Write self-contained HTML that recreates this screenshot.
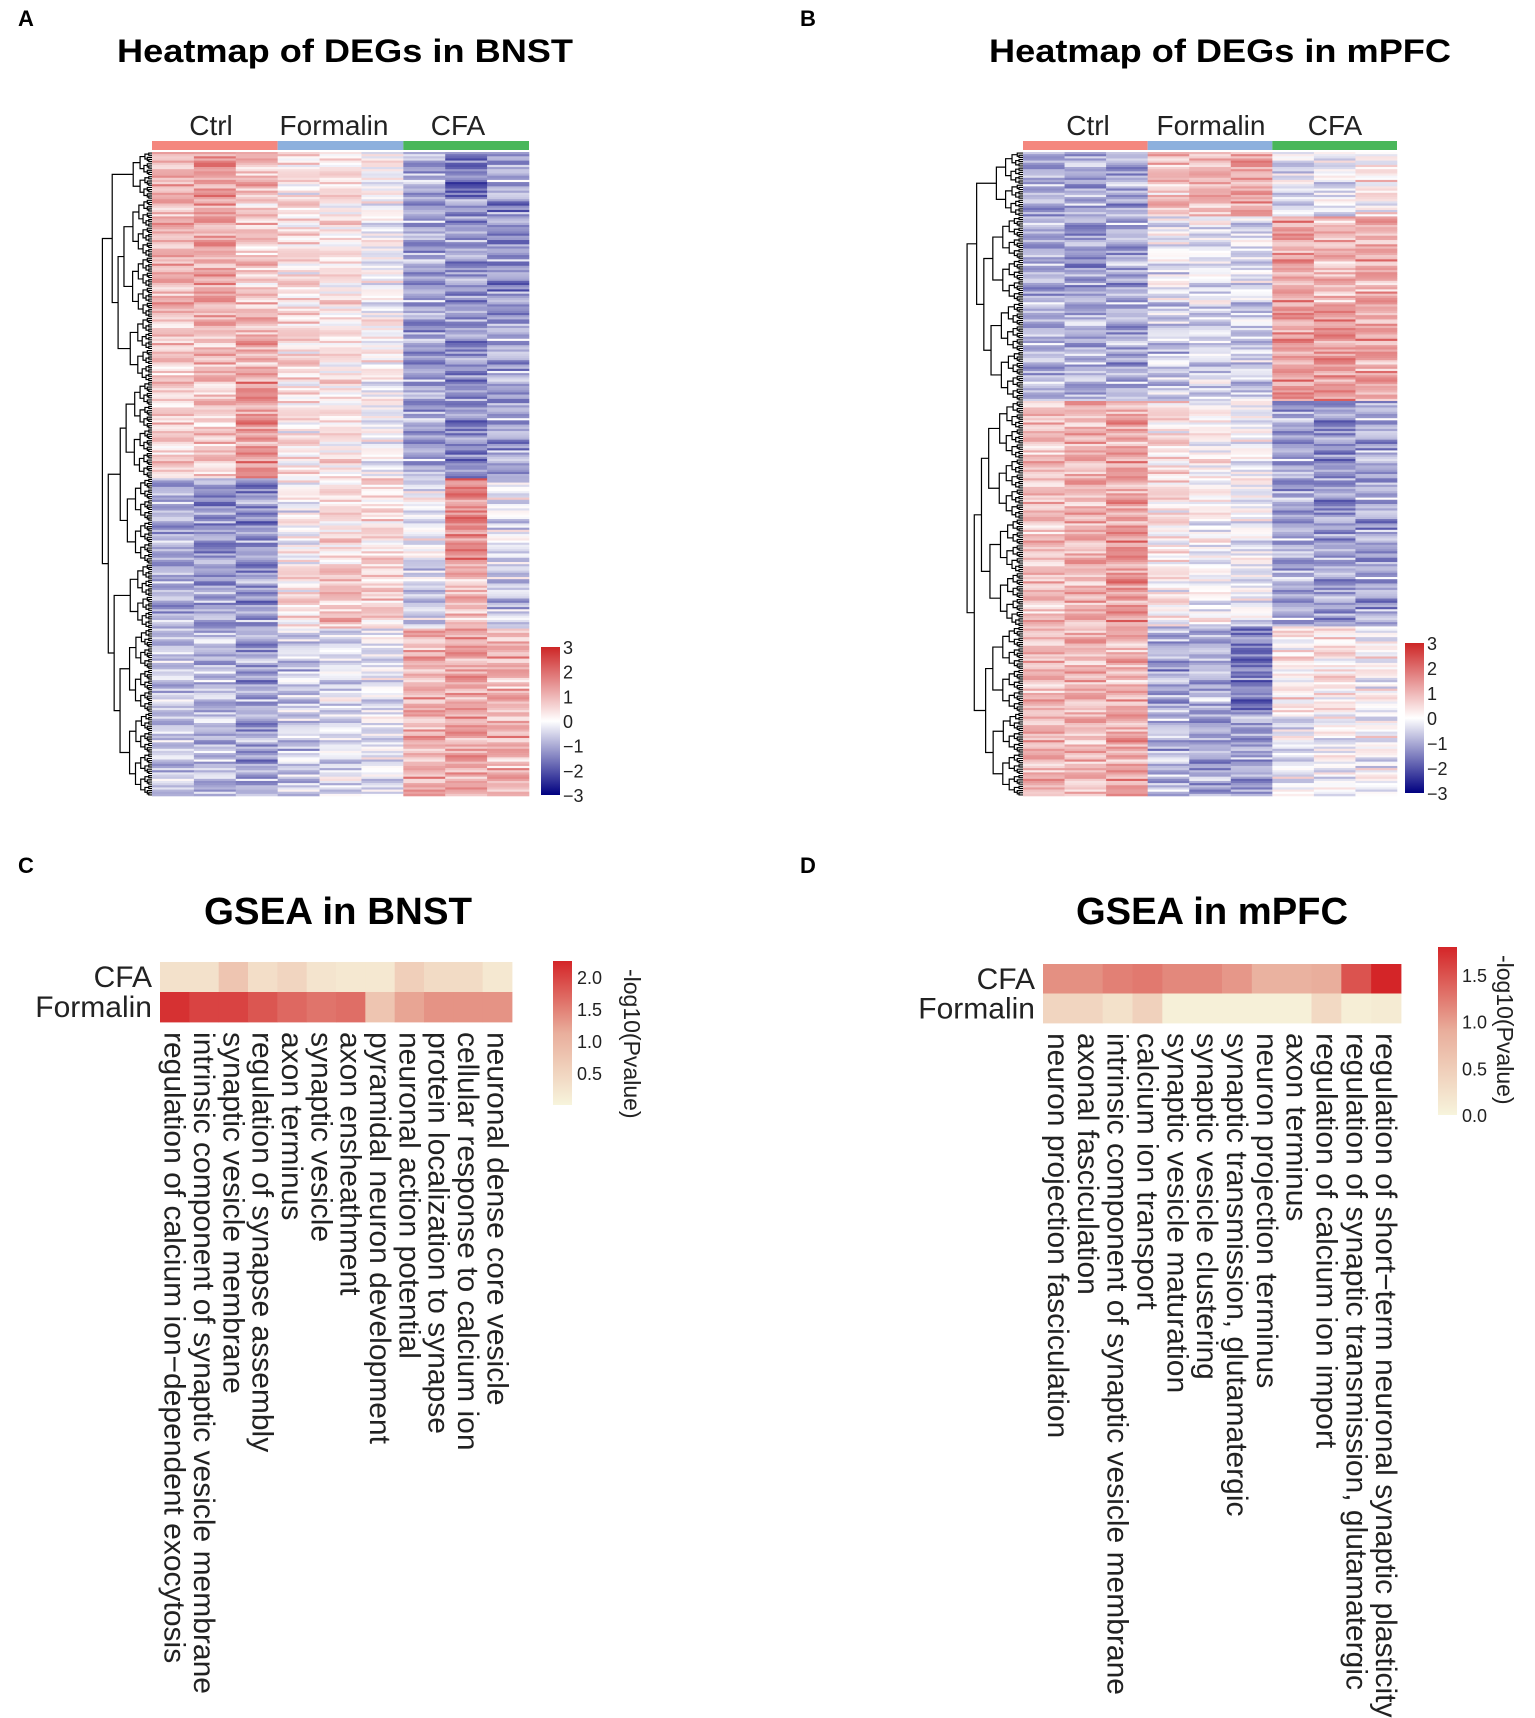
<!DOCTYPE html>
<html><head><meta charset="utf-8"><style>
html,body{margin:0;padding:0;background:#fff;}
svg{display:block;font-family:"Liberation Sans",Arial,sans-serif;}
</style></head><body>
<svg id="fig" width="1535" height="1718" viewBox="0 0 1535 1718" xmlns="http://www.w3.org/2000/svg">
<text x="18" y="26" font-size="22" font-weight="bold">A</text>
<text x="800" y="26" font-size="22" font-weight="bold">B</text>
<text x="18" y="873" font-size="22" font-weight="bold">C</text>
<text x="800" y="873" font-size="22" font-weight="bold">D</text>
<text x="345" y="62" font-size="32" font-weight="bold" text-anchor="middle" textLength="456" lengthAdjust="spacingAndGlyphs">Heatmap of DEGs in BNST</text>
<text x="1220" y="62" font-size="32" font-weight="bold" text-anchor="middle" textLength="462" lengthAdjust="spacingAndGlyphs">Heatmap of DEGs in mPFC</text>
<text x="338" y="924" font-size="38" font-weight="bold" text-anchor="middle" textLength="268" lengthAdjust="spacingAndGlyphs">GSEA in BNST</text>
<text x="1212" y="924" font-size="38" font-weight="bold" text-anchor="middle" textLength="272" lengthAdjust="spacingAndGlyphs">GSEA in mPFC</text>
<defs>
<linearGradient id="zgrad" x1="0" y1="1" x2="0" y2="0">
<stop offset="0" stop-color="#000080"/><stop offset="0.5" stop-color="#ffffff"/><stop offset="1" stop-color="#CD2626"/>
</linearGradient>
<linearGradient id="pgrad" x1="0" y1="1" x2="0" y2="0">
<stop offset="0" stop-color="#F7F4DC"/><stop offset="0.5" stop-color="#E9AE9C"/><stop offset="1" stop-color="#D42528"/>
</linearGradient>
</defs>
<g id="gA"></g>
<g id="gB"></g>
<g id="gC"></g>
<g id="gD"></g>
</svg>
<script>
// ---- heatmap data (row blocks: [rowCount, 9 column z-scores]) ----
const groups = ["Ctrl", "Formalin", "CFA"];
const groupColors = ["#F4877E", "#8DB0DD", "#49B75A"];
const zTicks = [3, 2, 1, 0, -1, -2, -3];
const bnstBlocks = [
  [22, [1.0, 1.4, 0.9, 0.3, 0.4, 0.0, -1.0, -1.7, -1.0]],
  [55, [1.0, 1.2, 0.7, 0.4, 0.3, -0.1, -1.1, -1.2, -1.3]],
  [30, [0.7, 0.9, 1.1, 0.5, 0.3, 0.1, -1.2, -1.3, -1.0]],
  [45, [0.6, 0.7, 1.4, 0.3, 0.3, -0.1, -1.1, -1.4, -1.1]],
  [40, [-1.0, -1.3, -1.3, 0.0, 0.4, 0.4, -0.2, 1.6, -0.3]],
  [30, [-1.0, -1.1, -1.2, 0.4, 0.8, 0.6, -0.6, 0.9, -0.7]],
  [78, [-0.7, -0.8, -1.1, -0.6, -0.4, -0.3, 1.0, 1.2, 1.0]]
];
const mpfcBlocks = [
  [30, [-1.0, -1.0, -1.0, 0.8, 1.0, 1.2, -0.4, -0.3, 0.2]],
  [40, [-1.0, -1.2, -1.0, -0.2, -0.3, -0.4, 1.2, 0.9, 1.1]],
  [46, [-0.9, -0.9, -1.0, -0.6, -0.5, -0.6, 1.3, 1.4, 1.2]],
  [55, [0.8, 1.0, 1.2, 0.4, 0.1, -0.1, -1.1, -1.3, -1.0]],
  [50, [0.8, 1.0, 1.4, 0.2, -0.1, -0.2, -1.0, -1.1, -1.1]],
  [40, [0.9, 1.0, 1.0, -1.0, -0.9, -1.6, 0.2, 0.3, 0.0]],
  [39, [1.0, 0.9, 1.2, -0.8, -1.1, -1.1, -0.3, -0.1, -0.1]]
];
const jitter = [0.3, -0.5, 0.1, 0.6, -0.2, -0.7, 0.4, 0.0, -0.3, 0.8, -0.1, 0.2, -0.6, 0.5, -0.4, 0.1, 0.7, -0.2, -0.8, 0.3, 0.0, -0.5, 0.4, 0.2, -0.3, 0.6, -0.1, -0.6, 0.5, 0.1, -0.4, 0.9, -0.2, 0.3, -0.7, 0.0, 0.4];

// ---- GSEA data ----
const rowsGsea = ["CFA", "Formalin"];
const bnstTerms = ["regulation of calcium ion\u2212dependent exocytosis", "intrinsic component of synaptic vesicle membrane", "synaptic vesicle membrane", "regulation of synapse assembly", "axon terminus", "synaptic vesicle", "axon ensheathment", "pyramidal neuron development", "neuronal action potential", "protein localization to synapse", "cellular response to calcium ion", "neuronal dense core vesicle"];
const bnstCFA = [0.3, 0.3, 0.75, 0.35, 0.5, 0.25, 0.2, 0.2, 0.6, 0.4, 0.4, 0.2];
const bnstFormalin = [2.15, 2.0, 2.0, 1.85, 1.7, 1.6, 1.65, 0.75, 1.2, 1.35, 1.35, 1.35];
const bnstTicks = [2.0, 1.5, 1.0, 0.5];
const mpfcTerms = ["neuron projection fasciculation", "axonal fasciculation", "intrinsic component of synaptic vesicle membrane", "calcium ion transport", "synaptic vesicle maturation", "synaptic vesicle clustering", "synaptic transmission, glutamatergic", "neuron projection terminus", "axon terminus", "regulation of calcium ion import", "regulation of synaptic transmission, glutamatergic", "regulation of short\u2212term neuronal synaptic plasticity"];
const mpfcCFA = [1.1, 1.1, 1.2, 1.25, 1.15, 1.15, 1.05, 0.85, 0.85, 0.9, 1.5, 1.8];
const mpfcFormalin = [0.4, 0.4, 0.25, 0.45, 0.05, 0.05, 0.05, 0.05, 0.05, 0.35, 0.08, 0.12];
const mpfcTicks = [1.5, 1.0, 0.5, 0.0];

const NS = "http://www.w3.org/2000/svg";
function mk(parent, tag, attrs, txt) {
  const e = document.createElementNS(NS, tag);
  for (const k in attrs) e.setAttribute(k, attrs[k]);
  if (txt !== undefined) e.textContent = txt;
  parent.appendChild(e);
  return e;
}
function mix(a, b, t) {
  const r = Math.round(a[0] + (b[0] - a[0]) * t), g = Math.round(a[1] + (b[1] - a[1]) * t), bl = Math.round(a[2] + (b[2] - a[2]) * t);
  return "rgb(" + r + "," + g + "," + bl + ")";
}
function zColor(v) {
  v = Math.max(-3, Math.min(3, v));
  if (v >= 0) return mix([255, 255, 255], [205, 38, 38], v / 3);
  return mix([255, 255, 255], [0, 0, 128], -v / 3);
}
function pColor(v, vmax) {
  const t = Math.max(0, Math.min(1, v / vmax));
  if (t < 0.5) return mix([247, 244, 220], [233, 174, 156], t / 0.5);
  return mix([233, 174, 156], [212, 37, 40], (t - 0.5) / 0.5);
}

function drawHeat(g, blocks, x0, x1, y0, y1, groupX, legX, legY0, legY1, dendX0) {
  let n = 0; blocks.forEach(b => n += b[0]);
  const cw = (x1 - x0) / 9, rh = (y1 - y0) / n;
  const xs = c => x0 + c * cw;
  const ys = r => y0 + r * rh;
  groups.forEach((gname, i) => {
    const a = mk(g, "rect", {x: xs(i * 3), y: y0 - 11, width: cw * 3, height: 9, fill: groupColors[i]});
    
    
    const t = mk(g, "text", {x: groupX[i], y: y0 - 17, "font-size": 28, "text-anchor": "middle", fill: "#222"}, gname);
    
    
  });
  let r = 0, k = 0;
  const cells = mk(g, "g", {});
  
  
  const bounds = [];
  blocks.forEach((b, bi) => {
    bounds.push([r, r + b[0]]);
    for (let i = 0; i < b[0]; i++) {
      for (let c = 0; c < 9; c++) {
        const v = b[1][c] + jitter[(k * 7 + c * 11) % jitter.length] * 0.9 + jitter[(k + c * 5) % jitter.length] * 0.35;
        const e = mk(cells, "rect", {x: xs(c).toFixed(2), y: ys(r).toFixed(2), width: (cw + 0.3).toFixed(2), height: (rh + 0.3).toFixed(2), fill: zColor(v)});
        
        
      }
      r++; k++;
    }
  });
  const dg = mk(g, "g", {stroke: "#000", "stroke-width": 1.2, fill: "none"});
  
  
  const W = x0 - dendX0;
  function tree(a, b, depth) {
    const mid = (ys(a) + ys(b)) / 2;
    if (b - a <= 1) return {y: mid, x: x0};
    const m = Math.floor((a + b) / 2);
    const L = tree(a, m, depth + 1), R = tree(m, b, depth + 1);
    const h = x0 - W * Math.pow(Math.log2(b - a + 1) / Math.log2(n + 1), 1.6) * (depth < 2 ? 1 : 0.92);
    mk(dg, "path", {d: "M" + L.x + "," + L.y + "H" + h + "V" + R.y + "H" + R.x});
    return {y: (L.y + R.y) / 2, x: h};
  }
  function build(list) {
    if (list.length === 1) return tree(list[0][0], list[0][1], 1);
    const m = Math.floor(list.length / 2);
    const L = build(list.slice(0, m)), R = build(list.slice(m));
    const h = Math.min(L.x, R.x) - W * 0.12;
    mk(dg, "path", {d: "M" + L.x + "," + L.y + "H" + h + "V" + R.y + "H" + R.x});
    return {y: (L.y + R.y) / 2, x: h};
  }
  build(bounds);
  const lr = mk(g, "rect", {x: legX, y: legY0, width: 19, height: legY1 - legY0, fill: "url(#zgrad)"});
  
  
  zTicks.forEach(t => {
    const y = legY1 - (t + 3) / 6 * (legY1 - legY0);
    const e = mk(g, "text", {x: legX + 22, y: y + 7, "font-size": 18, fill: "#222"}, t < 0 ? "\u2212" + (-t) : String(t));
    
    
  });
}

drawHeat(document.getElementById("gA"), bnstBlocks, 152, 529, 152, 796, [211, 334, 458], 541, 647, 795, 103);
drawHeat(document.getElementById("gB"), mpfcBlocks, 1023, 1397, 152, 796, [1088, 1211, 1335], 1405, 643, 793, 963);

function drawGsea(g, terms, rowVals, x0, x1, y0, y1, vmax, ticks, legX, legY0, legY1, titleX) {
  const nC = terms.length, cw = (x1 - x0) / nC, rh = (y1 - y0) / 2;
  const xs = c => x0 + c * cw, ys = r => y0 + r * rh;
  rowVals.forEach((vals, ri) => {
    const lab = mk(g, "text", {x: x0 - 8, y: ys(ri) + rh / 2 + 10, "font-size": 30, "text-anchor": "end", fill: "#222"}, rowsGsea[ri]);
    
    
    vals.forEach((v, c) => {
      const e = mk(g, "rect", {x: xs(c).toFixed(2), y: ys(ri).toFixed(2), width: (cw + 0.4).toFixed(2), height: (rh + 0.4).toFixed(2), fill: pColor(v, vmax)});
      
      
    });
  });
  terms.forEach((t, c) => {
    const cx = xs(c) + cw / 2 - 10, cy = y1 + 10;
    const e = mk(g, "text", {x: cx, y: cy, "font-size": 30, fill: "#222", transform: "rotate(90 " + cx + " " + cy + ")"}, t);
    
    
  });
  const lr = mk(g, "rect", {x: legX, y: legY0, width: 19, height: legY1 - legY0, fill: "url(#pgrad)"});
  
  
  ticks.forEach(t => {
    const y = legY1 - t / vmax * (legY1 - legY0);
    const e = mk(g, "text", {x: legX + 24, y: y + 7, "font-size": 18, fill: "#222"}, t.toFixed(1));
    
    
  });
  const ty = legY0 + 8;
  const tt = mk(g, "text", {x: titleX, y: ty, "font-size": 23, fill: "#222", transform: "rotate(90 " + titleX + " " + ty + ")"}, "-log10(Pvalue)");
  
  
}
drawGsea(document.getElementById("gC"), bnstTerms, [bnstCFA, bnstFormalin], 160, 512, 962, 1022, 2.25, bnstTicks, 553, 961, 1105, 624);
drawGsea(document.getElementById("gD"), mpfcTerms, [mpfcCFA, mpfcFormalin], 1043, 1401, 964, 1023, 1.8, mpfcTicks, 1438, 947, 1115, 1497);
</script>
</body></html>
